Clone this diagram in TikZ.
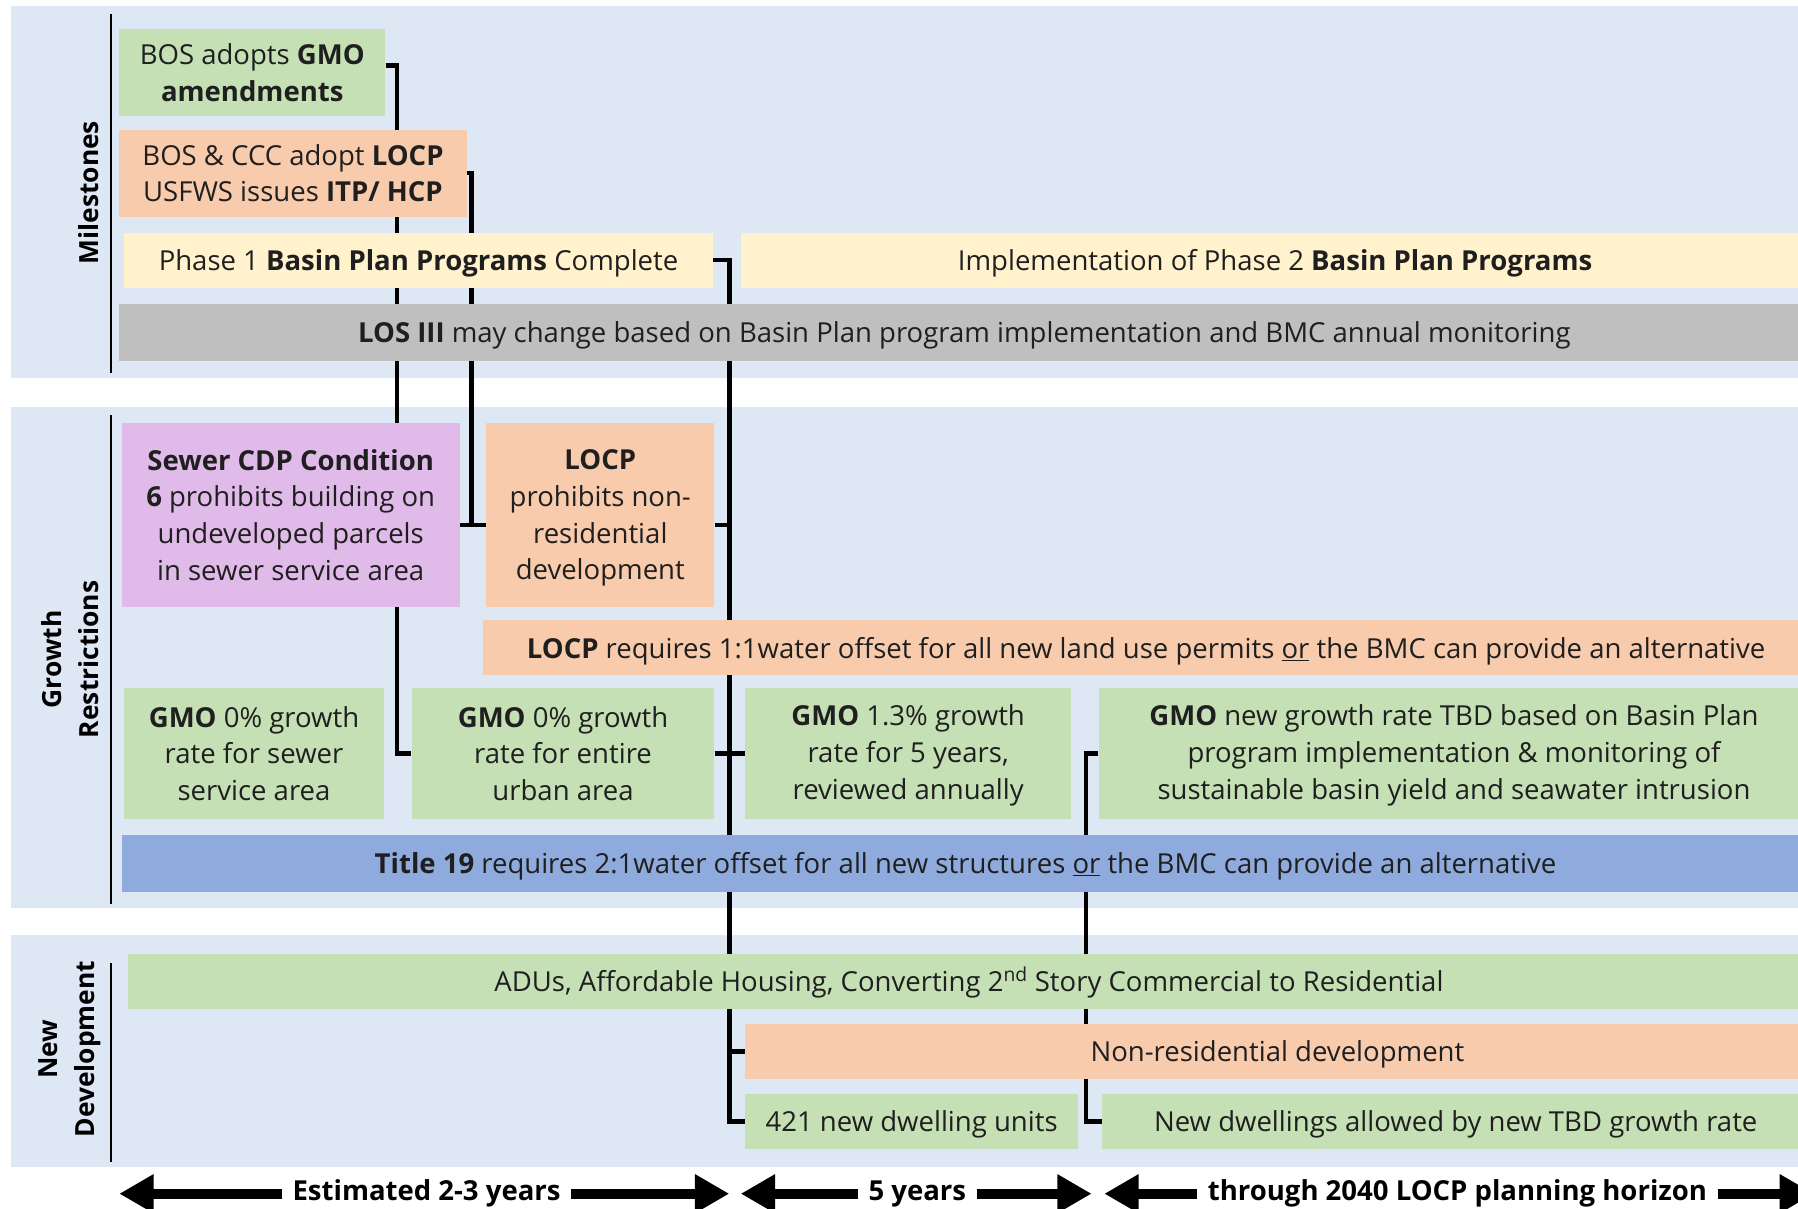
\documentclass[tikz,border=0pt]{standalone}
\usepackage{fontspec}
\setmainfont{Open Sans}
\usetikzlibrary{arrows.meta}

\definecolor{panelbg}{RGB}{222,232,245}
\definecolor{boxgreen}{RGB}{197,224,180}
\definecolor{boxorange}{RGB}{248,203,173}
\definecolor{boxyellow}{RGB}{255,242,204}
\definecolor{boxgray}{RGB}{191,191,191}
\definecolor{boxpurple}{RGB}{224,186,232}
\definecolor{boxblue}{RGB}{143,170,220}

\pgfdeclarelayer{panels}
\pgfdeclarelayer{wires}
\pgfsetlayers{panels,wires,main}

\tikzset{
  box/.style={inner sep=0pt, align=center, text=black!88,
    font=\fontsize{24}{32}\selectfont},
  oneline/.style={execute at begin node={\rule{0pt}{25pt}},
    execute at end node={\rule[-7pt]{0pt}{7pt}}},
  greenbox/.style={box, fill=boxgreen},
  orangebox/.style={box, fill=boxorange},
  yellowbox/.style={box, fill=boxyellow},
  graybox/.style={box, fill=boxgray},
  purplebox/.style={box, fill=boxpurple},
  bluebox/.style={box, fill=boxblue},
  wire/.style={line width=3.8pt, line join=miter},
  rowlabel/.style={rotate=90, align=center, font=\fontsize{23}{32}\selectfont\bfseries},
  spanlabel/.style={inner xsep=9pt, font=\fontsize{24}{28}\selectfont\bfseries},
  span/.style={line width=9pt, -{Triangle[length=30pt,width=32pt]}},
}

\begin{document}
\begin{tikzpicture}[x=1pt, y=-1pt]
    \useasboundingbox (0,0) rectangle (1568,1054);

    % Row panels
    \begin{pgfonlayer}{panels}
    \fill[panelbg] (10,5) rectangle (1578,330);
    \fill[panelbg] (10,355) rectangle (1578,792);
    \fill[panelbg] (10,815) rectangle (1578,1018);
    \draw[line width=2pt] (97,12) -- (97,325);
    \draw[line width=2pt] (97,362) -- (97,788);
    \draw[line width=2pt] (97,840) -- (97,1013);
    \end{pgfonlayer}

    % Row labels
    \node[rowlabel] (lblmile) at (77,168) {Milestones};
    \node[rowlabel] (lblgrow) at (61,575) {Growth\\Restrictions};
    \node[rowlabel] (lblnew) at (61,915) {New\\Development};

    % Milestones
    \node[greenbox, text depth=-6pt, minimum width=232pt, minimum height=76pt] (bosgmo) at (220,63)
        {BOS adopts \textbf{GMO}\\\textbf{amendments}};
    \node[orangebox, text depth=-5pt, minimum width=303pt, minimum height=76pt] (boslocp) at (255.5,151)
        {BOS \& CCC adopt \textbf{LOCP}\\USFWS issues \textbf{ITP/ HCP}};
    \node[yellowbox, oneline, minimum width=514pt, minimum height=48pt] (phaseone) at (365,227)
        {Phase 1 \textbf{Basin Plan Programs} Complete};
    \node[yellowbox, oneline, minimum width=932pt, minimum height=48pt] (phasetwo) at (1112,227)
        {Implementation of Phase 2 \textbf{Basin Plan Programs}};
    \node[graybox, oneline, minimum width=1474pt, minimum height=50pt] (losiii) at (841,290)
        {\textbf{LOS III} may change based on Basin Plan program implementation and BMC annual monitoring};

    % Growth restrictions
    \node[purplebox, text depth=-3pt, minimum width=295pt, minimum height=160pt] (sewer) at (253.5,449)
        {\textbf{Sewer CDP Condition}\\\textbf{6} prohibits building on\\undeveloped parcels\\in sewer service area};
    \node[orangebox, text depth=-2pt, minimum width=199pt, minimum height=160pt] (locpno) at (523.5,449)
        {\textbf{LOCP}\\prohibits non-\\residential\\development};
    \node[orangebox, oneline, minimum width=1157pt, minimum height=48pt] (locpoff) at (999.5,565)
        {\textbf{LOCP} requires 1:1water offset for all new land use permits \underline{or} the BMC can provide an alternative};
    \node[greenbox, text depth=-4pt, minimum width=227pt, minimum height=114pt] (gmosewer) at (221.5,657)
        {\textbf{GMO} 0\% growth\\rate for sewer\\service area};
    \node[greenbox, text depth=-4pt, minimum width=264pt, minimum height=114pt] (gmourban) at (491,657)
        {\textbf{GMO} 0\% growth\\rate for entire\\urban area};
    \node[greenbox, text depth=2pt, minimum width=284pt, minimum height=114pt] (gmofive) at (792,657)
        {\textbf{GMO} 1.3\% growth\\rate for 5 years,\\reviewed annually};
    \node[greenbox, text depth=2pt, minimum width=620pt, minimum height=114pt] (gmotbd) at (1268,657)
        {\textbf{GMO} new growth rate TBD based on Basin Plan\\program implementation \& monitoring of\\sustainable basin yield and seawater intrusion};
    \node[bluebox, oneline, minimum width=1472pt, minimum height=50pt] (titlenine) at (842,753)
        {\textbf{Title 19} requires 2:1water offset for all new structures \underline{or} the BMC can provide an alternative};

    % New development
    \node[greenbox, oneline, minimum width=1466pt, minimum height=48pt] (adus) at (845,856)
        {ADUs, Affordable Housing, Converting 2\textsuperscript{nd} Story Commercial to Residential};
    \node[orangebox, oneline, minimum width=928pt, minimum height=48pt] (nonres) at (1114,917)
        {Non-residential development};
    \node[greenbox, oneline, minimum width=290pt, minimum height=48pt] (dwell) at (795,978)
        {421 new dwelling units};
    \node[greenbox, oneline, minimum width=617pt, minimum height=48pt] (newdwell) at (1269.5,978)
        {New dwellings allowed by new TBD growth rate};

    % Connectors behind the boxes
    \begin{pgfonlayer}{wires}
    \draw[wire] ([yshift=6pt]bosgmo.east) -- ++(10,0) |- (gmourban.west);
    \draw[wire] (boslocp.east) -- ++(4,0) |- ([yshift=-9pt]locpno.west);
    \draw[wire] ([yshift=-9pt]sewer.east) -- ([yshift=-9pt]locpno.west);
    \draw[wire] (phaseone.east) -- ++(14,0) |- (dwell.west);
    \draw[wire] ([yshift=-9pt]locpno.east) -- ++(13,0);
    \draw[wire] (gmourban.east) -- (gmofive.west);
    \draw[wire] (nonres.west) -- ++(-14,0);
    \draw[wire] (gmotbd.west) -- ++(-11,0) |- (newdwell.west);
    \end{pgfonlayer}

    % Time spans
    \node[spanlabel] (spanest) at (372,1041) {Estimated 2-3 years};
    \node[spanlabel] (spanfive) at (800,1041) {5 years};
    \node[spanlabel] (spanlong) at (1271,1041) {through 2040 LOCP planning horizon};
    \coordinate (estL) at (104,1041);
    \coordinate (estR) at (636,1041);
    \coordinate (fiveL) at (646,1041);
    \coordinate (fiveR) at (952,1041);
    \coordinate (longL) at (963,1041);
    \coordinate (longR) at (1582,1041);
    \draw[span] (spanest.west) -- (estL);
    \draw[span] (spanest.east) -- (estR);
    \draw[span] (spanfive.west) -- (fiveL);
    \draw[span] (spanfive.east) -- (fiveR);
    \draw[span] (spanlong.west) -- (longL);
    \draw[span] (spanlong.east) -- (longR);
\end{tikzpicture}
\end{document}
